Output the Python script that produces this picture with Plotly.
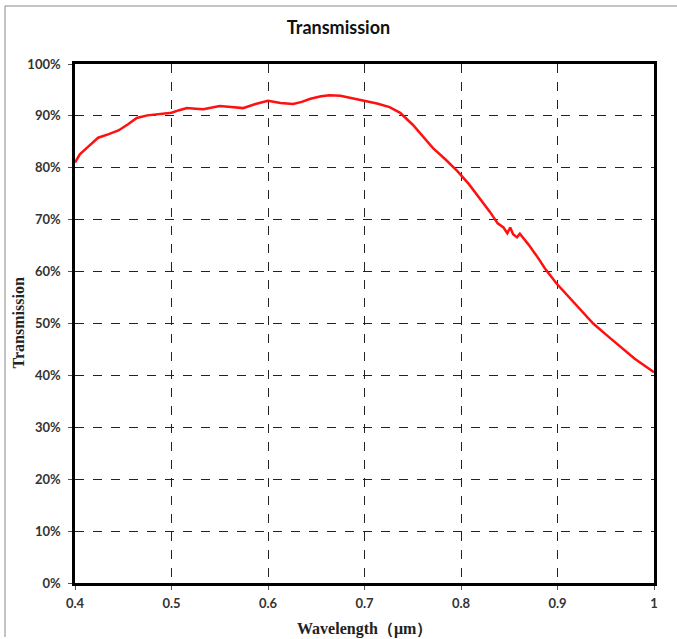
import plotly.graph_objects as go

wavelength = [0.400, 0.405, 0.412, 0.424, 0.435, 0.445, 0.455, 0.464, 0.475, 0.488,
              0.500, 0.508, 0.516, 0.525, 0.533, 0.542, 0.550, 0.562, 0.574, 0.587,
              0.600, 0.613, 0.626, 0.635, 0.644, 0.655, 0.664, 0.675, 0.688, 0.700,
              0.713, 0.726, 0.737, 0.750, 0.760, 0.771, 0.784, 0.796, 0.808, 0.820,
              0.830, 0.838, 0.844, 0.848, 0.851, 0.854, 0.858, 0.861, 0.870, 0.880,
              0.887, 0.899, 0.912, 0.925, 0.937, 0.950, 0.965, 0.980, 1.000]
transmission = [81.0, 82.6, 83.8, 85.8, 86.5, 87.2, 88.4, 89.6, 90.1, 90.3,
                90.6, 91.1, 91.5, 91.4, 91.3, 91.6, 91.9, 91.7, 91.5, 92.3,
                92.9, 92.5, 92.3, 92.7, 93.3, 93.8, 94.0, 93.9, 93.4, 92.8,
                92.4, 91.7, 90.6, 88.3, 86.2, 83.8, 81.6, 79.4, 76.9, 74.0,
                71.5, 69.3, 68.5, 67.4, 68.5, 67.2, 66.6, 67.3, 65.2, 62.6,
                60.6, 57.7, 55.0, 52.4, 50.0, 47.9, 45.5, 43.2, 40.6]

x_ticks = [0.4, 0.5, 0.6, 0.7, 0.8, 0.9, 1.0]
x_tick_labels = ["0.4", "0.5", "0.6", "0.7", "0.8", "0.9", "1"]
y_ticks = [0, 10, 20, 30, 40, 50, 60, 70, 80, 90, 100]
y_tick_labels = [f"{v}%" for v in y_ticks]

W, H = 677, 639
L, R, T, B = 75, 23, 64, 56
PW, PH = W - L - R, H - T - B

fig = go.Figure()
fig.add_trace(go.Scatter(x=wavelength, y=transmission, mode="lines",
                         line=dict(color="#FF1010", width=2.5),
                         showlegend=False, hoverinfo="skip"))

tick_font = dict(family="Lato, 'Open Sans', sans-serif", size=13, color="#333333", weight="bold")
title_font = dict(family="'Liberation Serif', 'DejaVu Serif', serif", size=16, color="#222222", weight="bold")

fig.update_layout(
    width=W, height=H,
    margin=dict(l=L, r=R, t=T, b=B, autoexpand=False),
    paper_bgcolor="white", plot_bgcolor="white",
    title=dict(text="Transmission", x=0.5, xanchor="center", y=1 - 28 / H, yanchor="middle",
               font=dict(family="Lato, 'Open Sans', sans-serif", size=18, color="#111111", weight="bold")),
    xaxis=dict(range=[0.4, 1.0], tickvals=x_ticks, ticktext=x_tick_labels,
               showline=True, linecolor="black", linewidth=2.5, mirror=True,
               showgrid=True, gridcolor="#222222", griddash="dash", gridwidth=1,
               ticks="outside", ticklen=4, tickcolor="#555555", ticklabelstandoff=3,
               tickfont=tick_font, zeroline=False, automargin=False),
    yaxis=dict(range=[0, 100], tickvals=y_ticks, ticktext=y_tick_labels,
               showline=True, linecolor="black", linewidth=2.5, mirror=True,
               showgrid=True, gridcolor="#222222", griddash="dash", gridwidth=1,
               ticks="outside", ticklen=4, tickcolor="#555555", ticklabelstandoff=5,
               tickfont=tick_font, zeroline=False, automargin=False),
    annotations=[
        dict(text="Wavelength（μm）", xref="paper", yref="paper", x=0.5, y=-(629 - (H - B)) / PH,
             xanchor="center", yanchor="middle", showarrow=False, font=title_font),
        dict(text="Transmission", xref="paper", yref="paper", x=-(L - 18) / PW, y=0.5,
             xanchor="center", yanchor="middle", textangle=-90, showarrow=False, font=title_font),
    ],
    shapes=[
        dict(type="line", xref="paper", yref="paper",
             x0=-(L - 5) / PW, x1=(W - L) / PW, y0=1 + (T - 6) / PH, y1=1 + (T - 6) / PH,
             line=dict(color="#888888", width=1)),
        dict(type="line", xref="paper", yref="paper",
             x0=-(L - 5) / PW, x1=-(L - 5) / PW, y0=-(B - 2) / PH, y1=1 + (T - 6) / PH,
             line=dict(color="#888888", width=1)),
    ],
)

fig.write_html("out.html", config={"displayModeBar": False},
               post_script="document.body.style.margin='0';document.body.style.overflow='hidden';")
